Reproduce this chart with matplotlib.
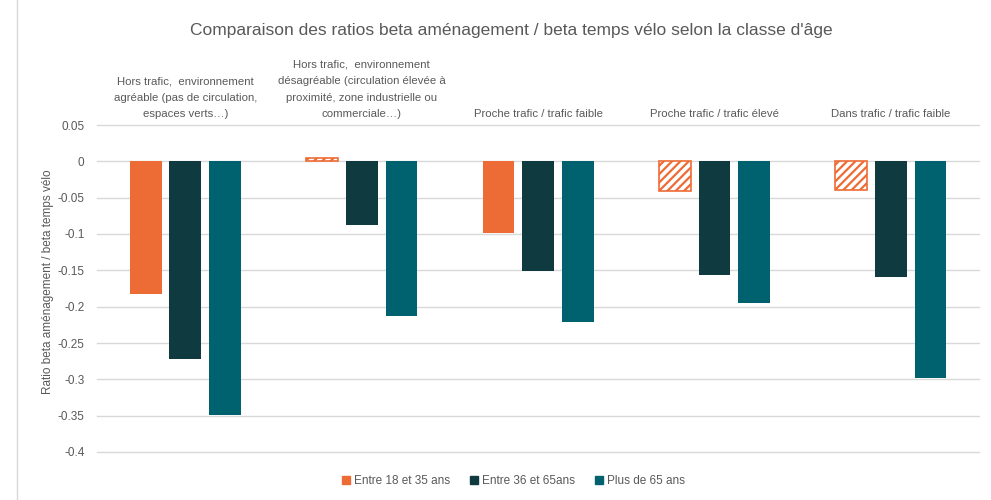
import numpy as np
import matplotlib
matplotlib.use("Agg")
import matplotlib.pyplot as plt

plt.rcParams['font.family'] = ['Liberation Sans', 'DejaVu Sans']
plt.rcParams['hatch.linewidth'] = 1.6

categories = [
    "Hors trafic,  environnement\nagréable (pas de circulation,\nespaces verts…)",
    "Hors trafic,  environnement\ndésagréable (circulation élevée à\nproximité, zone industrielle ou\ncommerciale…)",
    "Proche trafic / trafic faible",
    "Proche trafic / trafic élevé",
    "Dans trafic / trafic faible",
]
series_names = ["Entre 18 et 35 ans", "Entre 36 et 65ans", "Plus de 65 ans"]
jeunes = [-0.182, 0.005, -0.098, -0.041, -0.039]
adultes = [-0.272, -0.087, -0.151, -0.156, -0.159]
seniors = [-0.349, -0.213, -0.221, -0.195, -0.298]
# orange bars drawn hatched (not significant)
hatched = [False, True, False, True, True]
tick_labels = ["-0.4", "-0.35", "-0.3", "-0.25", "-0.2", "-0.15", "-0.1", "-0.05", "0", "0.05"]

colors = ["#ED6C35", "#0F3A40", "#00626E"]
text_col = "#595959"

fig = plt.figure(figsize=(9.91, 5), dpi=100)
ax = fig.add_axes([0.098, 0.096, 0.89, 0.654])

x = np.arange(len(categories))
w = 0.18
step = 0.225

for i, v in enumerate(jeunes):
    if hatched[i]:
        ax.bar(x[i] - step, v, w, facecolor="white", edgecolor=colors[0],
               hatch="////", linewidth=1.2, zorder=3)
    else:
        ax.bar(x[i] - step, v, w, color=colors[0], zorder=3)
ax.bar(x, adultes, w, color=colors[1], zorder=3)
ax.bar(x + step, seniors, w, color=colors[2], zorder=3)

ax.set_xlim(-0.5, len(categories) - 0.5)
ax.set_ylim(-0.4, 0.05)
ticks = np.linspace(-0.4, 0.05, len(tick_labels))
ax.set_yticks(ticks)
ax.set_yticklabels(tick_labels)
ax.yaxis.grid(True, color="#d9d9d9", linewidth=1)
for gl in ax.yaxis.get_gridlines():
    gl.set_clip_on(False)
ax.set_axisbelow(True)
ax.tick_params(axis="y", length=0, pad=9, labelsize=8.5, labelcolor=text_col)
ax.set_xticks([])
for s in ax.spines.values():
    s.set_visible(False)

for i, c in enumerate(categories):
    ax.text(x[i], 0.058, c, ha="center", va="bottom", fontsize=8.2,
            color=text_col, linespacing=1.8)

ax.set_ylabel("Ratio beta aménagement / beta temps vélo", fontsize=8.5,
              color=text_col)
ax.yaxis.set_label_coords(-0.049, 0.52)

fig.text(0.516, 0.94, "Comparaison des ratios beta aménagement / beta temps vélo selon la classe d'âge",
         ha="center", va="center", fontsize=12.5, color=text_col)

handles = [plt.Rectangle((0, 0), 1, 1, color=c) for c in colors]
fig.legend(handles, series_names, loc="center", bbox_to_anchor=(0.518, 0.038),
           ncol=3, frameon=False, fontsize=8.5, labelcolor=text_col,
           handlelength=0.7, handleheight=0.7, handletextpad=0.3, columnspacing=1.7)

# outer chart border
fig.patches.append(plt.Rectangle((0.017, -0.01), 0.99, 1.02, transform=fig.transFigure,
                                 fill=False, edgecolor="#d9d9d9", linewidth=1))

fig.savefig("out.png", dpi=100)
